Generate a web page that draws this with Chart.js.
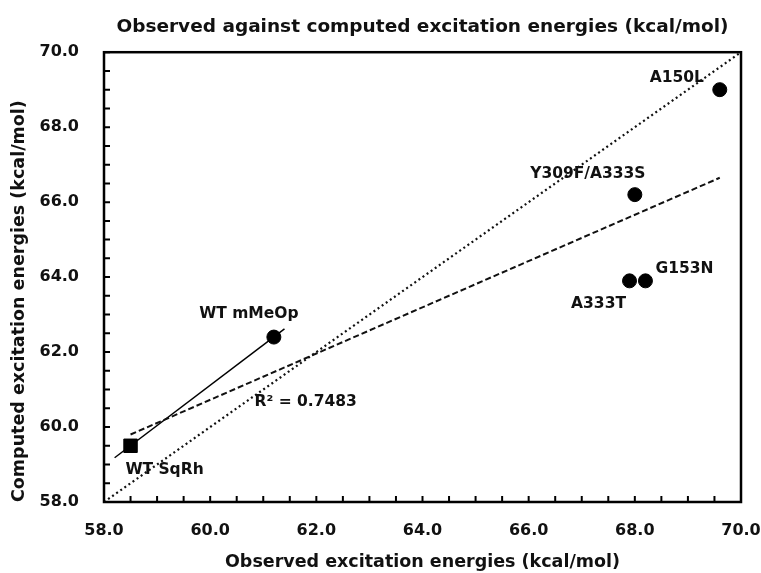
<!DOCTYPE html>
<html>
<head>
<meta charset="utf-8">
<script src="https://cdn.jsdelivr.net/npm/chart.js@4"></script>
<style>
  body { margin: 0; background: #fff; }
</style>
</head>
<body>
<canvas id="energies" width="761" height="573"></canvas>
<script>
// values (kcal/mol)
const variants = ["WT SqRh", "WT mMeOp", "A150L", "Y309F/A333S", "A333T", "G153N"];
const observed = [58.5, 61.2, 69.6, 68.0, 67.9, 68.2];
const computed = [59.5, 62.4, 69.0, 66.2, 63.9, 63.9];

// trend line (dashed), y = x reference (dotted), WT link (solid)
const trendX = [58.5, 69.6];
const trendY = [59.8, 66.65];
const identityX = [58, 70];
const identityY = [58, 70];
const linkX = [58.2, 61.4];
const linkY = [59.18, 62.62];

const rSquared = "R\u00B2 = 0.7483";
const rSquaredAt = [61.8, 60.67];

const axisTicks = [58, 60, 62, 64, 66, 68, 70];

const toPoints = (xs, ys) => xs.map((x, i) => ({ x: x, y: ys[i] }));

// label offsets in px from each point
const labelOffsets = [[34, 24], [-25, -23], [-43, -12], [-47, -21], [-31, 23], [39, -12]];

const family = "'DejaVu Sans', Arial, sans-serif";
const boldFont = "bold 15.5px " + family;

const framePlugin = {
  id: "frame",
  afterDatasetsDraw(chart) {
    const { ctx, chartArea, scales } = chart;
    const meta = chart.getDatasetMeta(0);
    ctx.save();

    // inward minor ticks every 0.5
    ctx.strokeStyle = "#000";
    ctx.lineWidth = 2;
    ctx.beginPath();
    for (let v = 58; v <= 70; v += 0.5) {
      const px = scales.x.getPixelForValue(v);
      ctx.moveTo(px, chartArea.bottom);
      ctx.lineTo(px, chartArea.bottom - 6);
      const py = scales.y.getPixelForValue(v);
      ctx.moveTo(chartArea.left, py);
      ctx.lineTo(chartArea.left + 6, py);
    }
    ctx.stroke();

    ctx.lineWidth = 2.5;
    ctx.strokeRect(chartArea.left, chartArea.top, chartArea.right - chartArea.left, chartArea.bottom - chartArea.top);

    // point labels
    ctx.fillStyle = "#111";
    ctx.font = boldFont;
    ctx.textAlign = "center";
    ctx.textBaseline = "middle";
    meta.data.forEach((pt, i) => {
      ctx.fillText(variants[i], pt.x + labelOffsets[i][0], pt.y + labelOffsets[i][1]);
    });
    ctx.fillText(rSquared, scales.x.getPixelForValue(rSquaredAt[0]), scales.y.getPixelForValue(rSquaredAt[1]));
    ctx.restore();
  },
};

const fitAxis = (size) => (scale) => {
  if (scale.isHorizontal()) {
    scale.height = size;
    scale.paddingLeft = 0;
    scale.paddingRight = 20;
  } else {
    scale.width = size;
  }
};

new Chart(document.getElementById("energies"), {
  type: "scatter",
  data: {
    datasets: [
      {
        label: "Variants",
        data: toPoints(observed, computed),
        backgroundColor: "#000",
        borderColor: "#000",
        pointStyle: variants.map((v, i) => (i === 0 ? "rect" : "circle")),
        pointRadius: variants.map((v, i) => (i === 0 ? 9.5 : 7)),
        order: 0,
      },
      {
        label: "Trend",
        data: toPoints(trendX, trendY),
        showLine: true,
        borderColor: "#111",
        borderWidth: 2,
        borderDash: [6, 3],
        pointRadius: 0,
        order: 1,
      },
      {
        label: "y = x",
        data: toPoints(identityX, identityY),
        showLine: true,
        borderColor: "#111",
        borderWidth: 2.2,
        borderDash: [2, 3],
        pointRadius: 0,
        order: 2,
      },
      {
        label: "WT",
        data: toPoints(linkX, linkY),
        showLine: true,
        borderColor: "#000",
        borderWidth: 1.5,
        pointRadius: 0,
        order: 3,
      },
    ],
  },
  options: {
    responsive: false,
    animation: false,
    layout: { padding: 0 },
    plugins: {
      legend: { display: false },
      tooltip: { enabled: false },
      title: {
        display: true,
        fullSize: false,
        text: "Observed against computed excitation energies (kcal/mol)",
        color: "#111",
        font: { family: family, size: 18.5, weight: "bold" },
        padding: { top: 16, bottom: 14 },
      },
    },
    scales: {
      x: {
        min: 58,
        max: 70,
        afterBuildTicks: (scale) => { scale.ticks = axisTicks.map((v) => ({ value: v })); },
        afterFit: fitAxis(71),
        grid: { display: false },
        border: { display: false },
        ticks: {
          color: "#111",
          padding: 11,
          font: { family: family, size: 16, weight: "bold" },
          callback: (v) => v.toFixed(1),
          maxRotation: 0,
        },
        title: {
          display: true,
          text: "Observed excitation energies (kcal/mol)",
          color: "#111",
          font: { family: family, size: 17.5, weight: "bold" },
          padding: 0,
        },
      },
      y: {
        min: 58,
        max: 70,
        afterBuildTicks: (scale) => { scale.ticks = axisTicks.map((v) => ({ value: v })); },
        afterFit: fitAxis(104),
        grid: { display: false },
        border: { display: false },
        ticks: {
          color: "#111",
          padding: 17,
          font: { family: family, size: 16, weight: "bold" },
          callback: (v) => v.toFixed(1),
        },
        title: {
          display: true,
          align: "start",
          text: "Computed excitation energies (kcal/mol)",
          color: "#111",
          font: { family: family, size: 17.5, weight: "bold" },
          padding: { top: 9, bottom: 0 },
        },
      },
    },
  },
  plugins: [framePlugin],
});
</script>
</body>
</html>
